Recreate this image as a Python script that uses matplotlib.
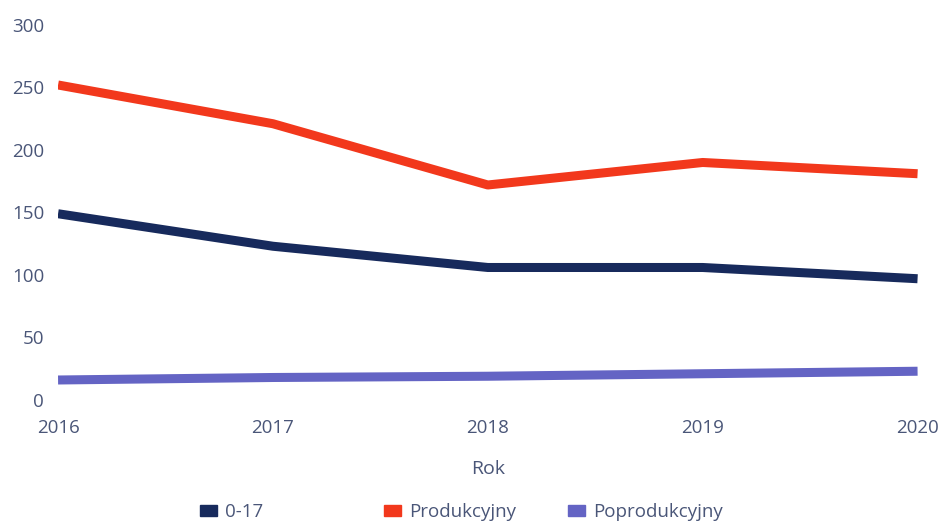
import matplotlib
matplotlib.use("Agg")
import matplotlib.pyplot as plt
from matplotlib.patches import Patch

years = [2016, 2017, 2018, 2019, 2020]
series_names = ["0-17", "Produkcyjny", "Poprodukcyjny"]
v_0_17 = [149, 123, 106, 106, 97]
v_prod = [252, 221, 172, 190, 181]
v_poprod = [16, 18, 19, 21, 23]
y_ticks = [0, 50, 100, 150, 200, 250, 300]
x_label = "Rok"

colors = ["#172a5c", "#f2381c", "#6464c4"]
text_color = "#4a5678"

plt.rcParams['font.family'] = ['Open Sans', 'DejaVu Sans']

fig = plt.figure(figsize=(9.44, 5.27), dpi=100)
ax = fig.add_axes([0.0615, 0.241, 0.9105, 0.7116])

for vals, c in zip([v_0_17, v_prod, v_poprod], colors):
    ax.plot(years, vals, color=c, linewidth=6.5, solid_capstyle='butt', solid_joinstyle='round')

ax.set_xlim(years[0], years[-1])
ax.set_ylim(0, 300)
ax.set_yticks(y_ticks)
ax.set_xticks(years)
ax.set_xticklabels([str(y) for y in years])
for s in ax.spines.values():
    s.set_visible(False)
ax.tick_params(axis='both', length=0, labelsize=13.5, colors=text_color)
ax.tick_params(axis='y', pad=10)
ax.tick_params(axis='x', pad=14)
ax.set_xlabel(x_label, fontsize=14, color=text_color, labelpad=16)

starts = [0.212, 0.407, 0.602]
for name, c, xs in zip(series_names, colors, starts):
    leg = fig.legend(handles=[Patch(facecolor=c, edgecolor=c)], labels=[name],
                     loc='center left', bbox_to_anchor=(xs, 0.028), frameon=False,
                     fontsize=13.5, handlelength=0.9, handleheight=0.5, handletextpad=0.45,
                     borderaxespad=0, borderpad=0)
    for t in leg.get_texts():
        t.set_color(text_color)

fig.savefig("out.png", dpi=100)
